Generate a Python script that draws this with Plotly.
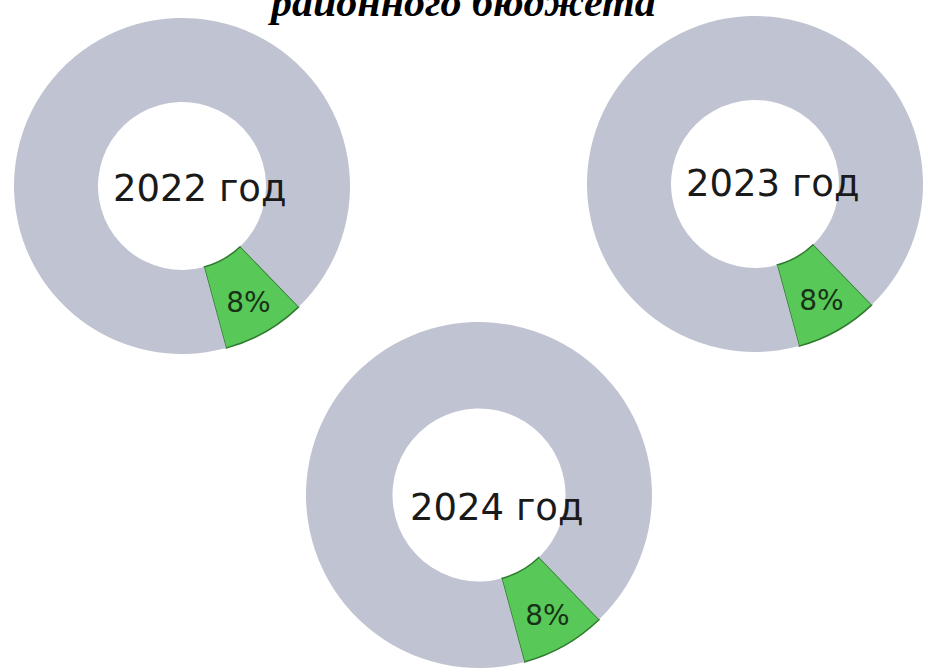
import plotly.graph_objects as go

# data
years = ["2022 год", "2023 год", "2024 год"]
share_labels = ["Доля", "Прочее"]
shares_2022 = [8, 92]
shares_2023 = [8, 92]
shares_2024 = [8, 92]
title_text = "районного бюджета"

series = [shares_2022, shares_2023, shares_2024]

W, H = 927, 668
# donut placements in pixels: (left, right, top, bottom)
boxes = [(14, 350, 18, 354), (587, 923, 16, 352), (305, 653, 322, 668)]
text_y = [188, 184, 507]
text_dx = 18

colors = ["#58c858", "#c0c4d2"]
line_colors = ["#2e7a2e", "#c0c4d2"]

fig = go.Figure()
annotations = []
for i, (vals, box) in enumerate(zip(series, boxes)):
    l, r, t, b = box
    fig.add_trace(go.Pie(
        labels=share_labels,
        values=vals,
        hole=0.5,
        sort=False,
        direction="clockwise",
        rotation=136,
        marker=dict(colors=colors, line=dict(color=line_colors, width=[1.5, 0])),
        texttemplate=["%{percent:.0%}", ""],
        textposition="inside",
        insidetextorientation="horizontal",
        textfont=dict(family="DejaVu Sans, Arial, sans-serif", size=28, color="#173217"),
        domain=dict(x=[l / W, r / W], y=[1 - b / H, 1 - t / H]),
        showlegend=False,
        hoverinfo="label+percent",
    ))
    annotations.append(dict(
        x=((l + r) / 2 + text_dx) / W, y=1 - text_y[i] / H, xref="paper", yref="paper",
        text=years[i], showarrow=False, xanchor="center", yanchor="middle",
        font=dict(family="DejaVu Sans, Arial, sans-serif", size=37, color="#1a1a1a"),
    ))

annotations.append(dict(
    x=462 / W, y=1 - 27 / H, xref="paper", yref="paper",
    text="<b><i>" + title_text + "</i></b>", showarrow=False,
    xanchor="center", yanchor="bottom",
    font=dict(family="Liberation Serif, Times New Roman, serif", size=42, color="#000000"),
))

fig.update_layout(
    width=W, height=H,
    margin=dict(l=0, r=0, t=0, b=0),
    paper_bgcolor="white",
    plot_bgcolor="white",
    annotations=annotations,
)

fig.write_html("out.html", config={"displayModeBar": False},
               post_script="document.body.style.margin='0';")
